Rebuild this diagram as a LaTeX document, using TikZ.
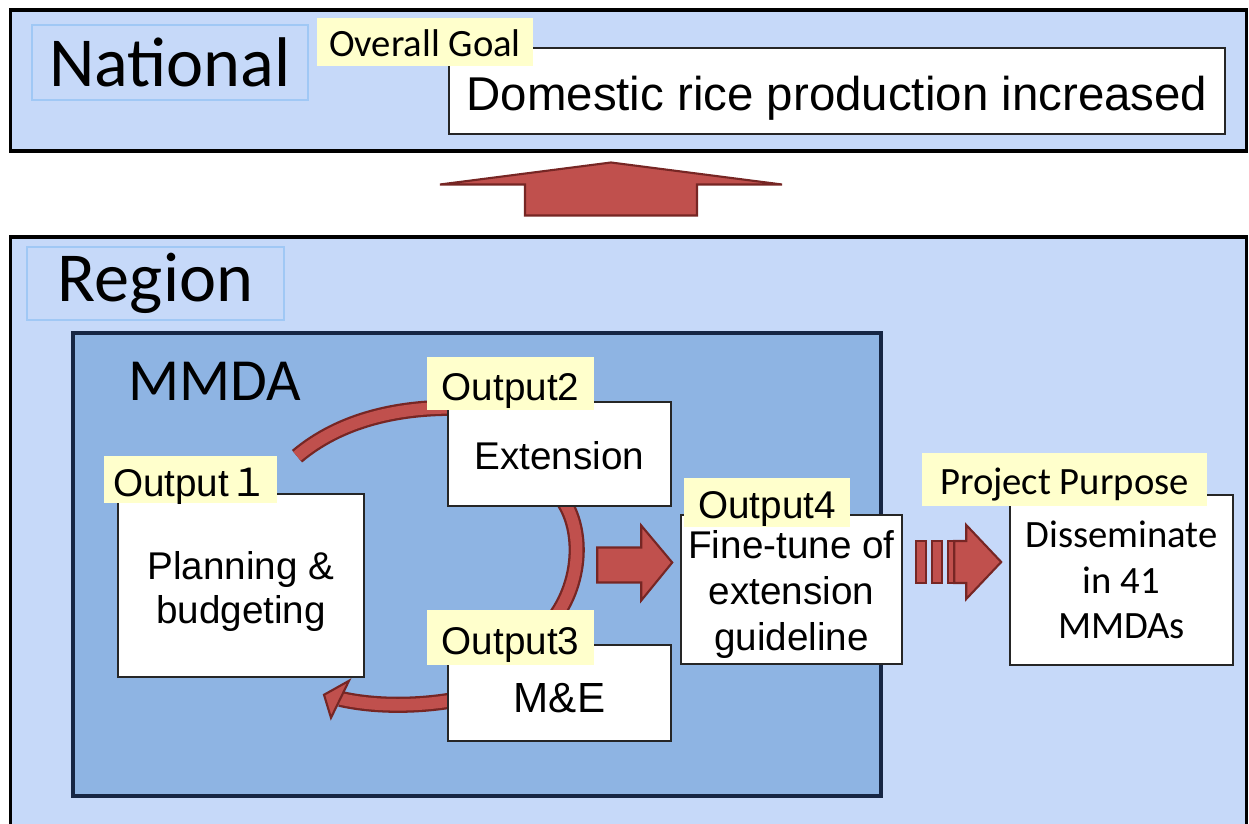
\documentclass[tikz,border=0pt]{standalone}
\usepackage{fontspec}
\setmainfont{Liberation Sans}
\newfontfamily\calibri{Carlito}
\newfontfamily\cjk{Noto Sans CJK JP}
\usepackage{tikz}
\usetikzlibrary{arrows.meta,positioning,calc}
\pgfdeclarelayer{front}
\pgfsetlayers{main,front}
\definecolor{paleblue}{RGB}{198,217,249}
\definecolor{midblue}{RGB}{142,180,227}
\definecolor{tagyellow}{RGB}{255,255,204}
\definecolor{tagedge}{RGB}{160,200,245}
\definecolor{arrowred}{RGB}{192,80,77}
\definecolor{arrowedge}{RGB}{118,38,36}
\definecolor{navy}{RGB}{22,38,68}
\newcommand\topstrut[1]{\rule{0pt}{#1}}
\tikzset{
  frame/.style={draw=black, line width=1.8pt, fill=paleblue},
  mmdaframe/.style={draw=navy, line width=1.8pt, fill=midblue},
  levelbox/.style={draw=tagedge, line width=1.5pt, inner sep=0pt, font=\calibri\fontsize{40}{44}\selectfont},
  outbox/.style={draw=black!85, line width=0.9pt, fill=white, align=center, inner sep=0pt, font=\fontsize{22}{25}\selectfont},
  tag/.style={fill=tagyellow, inner sep=0pt, text height=17pt, text depth=0pt, font=\calibri\fontsize{22}{26}\selectfont},
  outtag/.style={tag, text height=19pt, font=\fontsize{22}{26}\selectfont},
  blockarrow/.style={fill=arrowred, draw=arrowedge, line width=1.2pt},
  band/.style={draw=arrowedge, double=arrowred, double distance=6.6pt, line width=1.3pt}
}

\begin{document}
\begin{tikzpicture}[x=0.02cm, y=-0.02cm]
  \useasboundingbox (0,0) rectangle (1249,823);
  \clip (0,0) rectangle (1249,823);

  % levels
  \node[frame, minimum width=24.74cm, minimum height=2.82cm] (national) at (628.5,80.5) {};
  \node[levelbox, minimum width=5.52cm, minimum height=1.5cm] (natlabel) at (170,62.5) {National};
  \node[frame, minimum width=24.74cm, minimum height=12.3cm] (region) at (628.5,544.5) {};
  \node[levelbox, minimum width=5.14cm, minimum height=1.46cm] (reglabel) at (155.5,283.5) {Region};
  \node[mmdaframe, minimum width=16.16cm, minimum height=9.26cm] (mmda) at (477,564.5) {};
  \node[font=\calibri\fontsize{34}{40}\selectfont] (mmdalabel) at (215,381) {MMDA};

  % outputs and goals
  \begin{pgfonlayer}{front}
  \node[outbox, font=\fontsize{27}{30}\selectfont, minimum width=15.52cm, minimum height=1.72cm] (goal) at (837,91) {\topstrut{28pt}Domestic rice production increased};
  \node[tag, minimum width=4.32cm, minimum height=0.96cm] (goaltag) at (425,42) {Overall Goal};

  \node[outbox, minimum width=4.92cm, minimum height=3.66cm] (plan) at (241,585.5) {\topstrut{23pt}Planning \&\\budgeting};
  \node[outtag, minimum width=3.46cm, minimum height=0.94cm] (tag1) at (190.5,479.5) {Output{\cjk １}};
  \node[outbox, minimum width=4.46cm, minimum height=2.08cm] (ext) at (559.5,454) {\topstrut{18pt}Extension};
  \node[outtag, minimum width=3.34cm, minimum height=1.06cm] (tag2) at (510.5,383.5) {Output2};
  \node[outbox, font=\fontsize{24}{28}\selectfont, minimum width=4.46cm, minimum height=1.92cm] (me) at (559.5,693) {\topstrut{22pt}M\&E};
  \node[outtag, minimum width=3.34cm, minimum height=1.1cm] (tag3) at (510.5,637.5) {Output3};
  \node[outbox, font=\fontsize{22}{26}\selectfont, minimum width=4.42cm, minimum height=2.98cm] (fine) at (791.5,589.5) {\topstrut{21.5pt}Fine-tune of\\extension\\guideline};
  \node[outtag, minimum width=3.32cm, minimum height=0.98cm] (tag4) at (767,502) {Output4};

  \node[outbox, font=\calibri\fontsize{22}{26}\selectfont, minimum width=4.46cm, minimum height=3.4cm] (dissem) at (1121.5,580) {Disseminate\\in 41\\MMDAs};
  \node[tag, minimum width=5.7cm, minimum height=1.06cm] (purpose) at (1064.5,479.5) {Project Purpose};
  \end{pgfonlayer}

  % cycle between outputs
  \draw[band] ([shift={(22,7)}]ext.north west) .. controls (400,405) and (340,420) .. ([shift={(56,-37)}]plan.north);
  \draw[band] ([shift={(0,-11)}]ext.south) .. controls (584,525) and (584,585) .. ([shift={(38,-40)}]tag3.south);
  \coordinate (loopend) at ([shift={(99,21)}]plan.south);
  \draw[band] ([shift={(22,4)}]me.west) .. controls (430,706) and (380,708) .. (loopend);
  \draw[blockarrow, line join=miter] (loopend) ++(9,-18) -- ++(-25,14) -- ++(7,23) -- cycle;

  % block arrows
  \draw[blockarrow] ([shift={(-8,-27)}]fine.west) -- ++(-31,38) -- ++(0,-18) -- ++(-44,0) -- ++(0,-35) -- ++(44,0) -- ++(0,-22) -- cycle;
  \draw[blockarrow] ([shift={(-8,-18)}]dissem.west) coordinate (stripetip) -- ++(-35,37) -- ++(0,-16) -- ++(-12,0) -- ++(0,-42) -- ++(12,0) -- ++(0,-16) -- cycle;
  \foreach \dx/\bw in {-85/10,-69/10,-53/6}
    \draw[blockarrow] ([shift={(\dx,-21)}]stripetip) rectangle ++(\bw,42);
  \coordinate (upfoot) at ([shift={(-17.5,-20)}]region.north);
  \draw[blockarrow] (upfoot) -- ++(-86,0) -- ++(0,-31) -- ++(-85,0) -- ++(171,-22) -- ++(171,22) -- ++(-85,0) -- ++(0,31) -- cycle;
\end{tikzpicture}
\end{document}
